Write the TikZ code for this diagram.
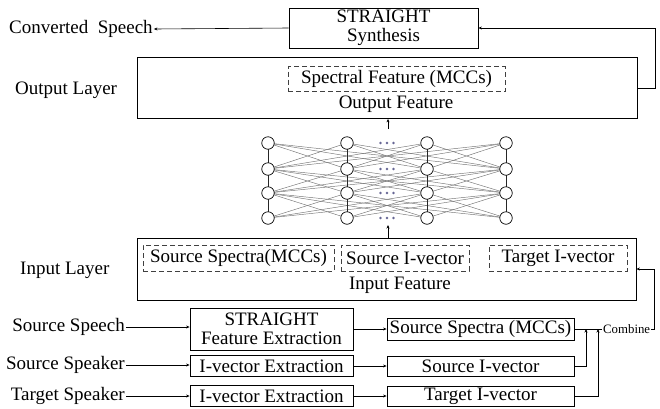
\documentclass[tikz,border=0pt]{standalone}
\usepackage{fontspec}
\setmainfont{Liberation Serif}
\usetikzlibrary{arrows.meta}

\newcommand\mainsize{\fontsize{19}{19.5}\selectfont}
\newcommand\smallsize{\fontsize{12.8}{13}\selectfont}

\tikzset{
  box/.style={draw, line width=0.8pt, inner sep=0pt, align=center, font=\mainsize},
  dbox/.style={draw=black!75, dashed, dash pattern=on 5pt off 3pt, line width=0.8pt,
               inner sep=0pt, align=center, font=\mainsize},
  lbl/.style={inner sep=1pt, font=\mainsize},
  arr/.style={line width=0.6pt, -{Stealth[length=3.5pt,width=3pt]}},
  ln/.style={line width=0.6pt},
  neuron/.style={circle, draw, line width=0.7pt, fill=white, minimum size=12.5pt, inner sep=0pt},
  wire/.style={draw=black!55, line width=0.45pt},
  colwire/.style={draw=black!85, line width=0.6pt},
  dot/.style={circle, fill=black!70!blue!60, minimum size=2.8pt, inner sep=0pt}
}

\begin{document}
\begin{tikzpicture}[x=1pt,y=-1pt]
\useasboundingbox (0,0) rectangle (660,408);

% synthesis stage and converted output
\node[box, minimum width=189pt, minimum height=40pt] (synth) at (383.5,28) {STRAIGHT\\Synthesis};
\node[lbl, anchor=west] (conv) at (8,29) {Converted~~Speech};

% output layer
\node[box, minimum width=500pt, minimum height=61pt] (outbox) at (387,88) {};
\node[dbox, minimum width=217pt, minimum height=25pt] (spec) at (396.5,79) {Spectral Feature (MCCs)};
\node[lbl] (outfeat) at (396,104) {Output Feature};
\node[lbl, anchor=west] (outlayer) at (14,90) {Output Layer};

% input layer
\node[box, minimum width=499pt, minimum height=62pt] (inbox) at (386.5,269) {};
\node[dbox, minimum width=191pt, minimum height=26pt] (d1) at (238.5,258) {Source Spectra(MCCs)};
\node[dbox, minimum width=128pt, minimum height=26pt] (d2) at (405,258) {Source I-vector};
\node[dbox, minimum width=138pt, minimum height=26pt] (d3) at (558,258) {Target I-vector};
\node[lbl] (infeat) at (400,285) {Input Feature};
\node[lbl, anchor=west] (inlayer) at (19,270) {Input Layer};

% hidden network
\foreach \r/\y in {1/143,2/169,3/193,4/218}{
  \foreach \c/\x in {1/268,2/347,3/427,4/506}{
    \coordinate (p-\r-\c) at (\x,\y);
  }
}
\foreach \r/\s in {1/2,2/3,3/4}{
  \foreach \a in {1,...,4}{
    \foreach \b in {1,...,4}{
      \ifnum\a=\b\else
        \draw[wire] (p-\r-\a) -- (p-\s-\b);
      \fi
    }
  }
  \foreach \a in {1,...,4}{
    \draw[colwire] (p-\r-\a) -- (p-\s-\a);
  }
}
\foreach \r in {1,...,4}{
  \foreach \c in {1,...,4}{
    \node[neuron] (n-\r-\c) at (p-\r-\c) {};
  }
}
\foreach \r/\y in {1/143,2/169,3/193,4/218}{
  \foreach \dx [count=\k] in {-6.5,0,6.5}{
    \node[dot] (dt-\r-\k) at (387+\dx,\y) {};
  }
}
\coordinate (nettop) at (388,129);
\coordinate (netbot) at (388,225);

% feature extraction rows
\node[lbl, anchor=east] (ss) at (126,327) {Source Speech};
\node[box, minimum width=163pt, minimum height=42pt] (sfe) at (271.5,329) {STRAIGHT\\Feature Extraction};
\node[box, minimum width=187pt, minimum height=22pt] (spectra) at (480.5,329) {Source Spectra (MCCs)};

\node[lbl, anchor=east] (sspk) at (126,365) {Source Speaker};
\node[box, minimum width=163pt, minimum height=21pt] (ive1) at (271.5,366) {I-vector Extraction};
\node[box, minimum width=187pt, minimum height=20pt] (siv) at (480.5,366) {Source I-vector};

\node[lbl, anchor=east] (tspk) at (126,396) {Target Speaker};
\node[box, minimum width=163pt, minimum height=21pt] (ive2) at (271.5,396) {I-vector Extraction};
\node[box, minimum width=187pt, minimum height=20pt] (tiv) at (480.5,396.5) {Target I-vector};

\node[inner sep=1pt, font=\smallsize, anchor=west] (comb) at (602,329) {Combine};
\coordinate (j1) at (586,329);
\coordinate (j2) at (598,329);

% connectors
\draw[arr] (synth.west) -- (conv.east);
\draw[arr] (outbox.east) -- ++(18,0) |- (synth.east);
\draw[arr] (inbox.north -| netbot) -- (netbot);
\draw[arr] (nettop) -- (outbox.south -| nettop);

\draw[arr] (ss.east) -- (sfe.west |- ss.east);
\draw[arr] (sfe.east) -- (spectra.west);
\draw[arr] (sspk.east) -- (ive1.west |- sspk.east);
\draw[arr] (ive1.east) -- (siv.west);
\draw[arr] (tspk.east) -- (ive2.west |- tspk.east);
\draw[arr] (ive2.east) -- (tiv.west |- ive2.east);

\draw[arr] (siv.east) -| (j1);
\draw[arr] (tiv.east) -| (j2);
\draw[ln] (spectra.east) -- (comb.west);
\draw[arr] (comb.east) -- ++(3,0) |- (inbox.east);
\end{tikzpicture}
\end{document}
